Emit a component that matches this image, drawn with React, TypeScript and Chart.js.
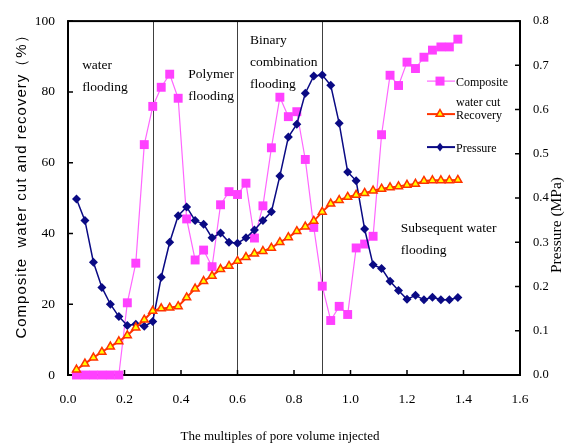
import { useEffect, useRef } from "react";
import { Chart, registerables } from "chart.js";

Chart.register(...registerables);

// ---- data ----
const pvInjected = [
  0.03, 0.06, 0.09, 0.12, 0.15, 0.18, 0.21, 0.24, 0.27, 0.3,
  0.33, 0.36, 0.39, 0.42, 0.45, 0.48, 0.51, 0.54, 0.57, 0.6,
  0.63, 0.66, 0.69, 0.72, 0.75, 0.78, 0.81, 0.84, 0.87, 0.9,
  0.93, 0.96, 0.99, 1.02, 1.05, 1.08, 1.11, 1.14, 1.17, 1.2,
  1.23, 1.26, 1.29, 1.32, 1.35, 1.38,
];
const waterCut = [
  0, 0, 0, 0, 0, 0, 20.4, 31.6, 65.1, 75.9,
  81.3, 85.0, 78.2, 44.1, 32.5, 35.3, 30.6, 48.1, 51.8, 51.0,
  54.2, 38.7, 47.8, 64.2, 78.5, 73.0, 74.4, 60.9, 41.7, 25.1,
  15.4, 19.4, 17.1, 35.9, 37.0, 39.2, 67.9, 84.7, 81.8, 88.4,
  86.6, 89.8, 91.8, 92.7, 92.7, 94.9,
];
const recovery = [
  1.5, 3.2, 4.9, 6.5, 8.0, 9.5, 11.2, 13.4, 15.6, 18.1,
  18.8, 19.0, 19.4, 21.9, 24.4, 26.5, 28.0, 29.9, 30.8, 32.2,
  33.3, 34.3, 35.0, 35.9, 37.5, 38.9, 40.6, 41.9, 43.5, 46.1,
  48.4, 49.4, 50.3, 50.9, 51.4, 52.1, 52.6, 53.0, 53.3, 53.7,
  54.0, 54.8, 55.0, 55.0, 55.0, 55.1,
];
const pressure = [
  0.398, 0.349, 0.255, 0.198, 0.16, 0.132, 0.112, 0.115, 0.11, 0.121,
  0.221, 0.3, 0.36, 0.38, 0.349, 0.341, 0.31, 0.321, 0.3, 0.298,
  0.31, 0.328, 0.349, 0.369, 0.45, 0.538, 0.567, 0.637, 0.676, 0.678,
  0.655, 0.569, 0.459, 0.439, 0.33, 0.249, 0.241, 0.212, 0.191, 0.171,
  0.18, 0.17, 0.176, 0.17, 0.17, 0.175,
];
const phaseBounds = [0.3, 0.6, 0.9];
const phaseLabels = [
  { x: 0.05, y: 86.4, lines: ["water", "flooding"] },
  { x: 0.426, y: 83.8, lines: ["Polymer", "flooding"] },
  { x: 0.644, y: 93.6, lines: ["Binary", "combination", "flooding"] },
  { x: 1.178, y: 40.5, lines: ["Subsequent water", "flooding"] },
];
const seriesNames = ["Composite", "Recovery", "Pressure"];
const xTitle = "The multiples of pore volume injected";
const yTitle = "Composite  water cut and recovery（%）";
const y2Title = "Pressure (MPa)";

const C_WC = "#FF40FF";
const C_WC_LINE = "#FF66FF";
const C_REC = "#FF3300";
const C_REC_FILL = "#FFFF00";
const C_P = "#0A0A84";

const SERIF = "'Liberation Serif', 'Times New Roman', serif";
const SANS = "'Liberation Sans', Arial, sans-serif";

function square(ctx: CanvasRenderingContext2D, x: number, y: number, s: number, c: string) {
  ctx.fillStyle = c;
  ctx.fillRect(x - s / 2, y - s / 2, s, s);
}
function tri(ctx: CanvasRenderingContext2D, x: number, y: number, r: number) {
  ctx.beginPath();
  for (let i = 0; i < 3; i++) {
    const a = (i * 2 * Math.PI) / 3;
    const px = x + Math.sin(a) * r;
    const py = y - Math.cos(a) * r;
    if (i === 0) ctx.moveTo(px, py);
    else ctx.lineTo(px, py);
  }
  ctx.closePath();
  ctx.fillStyle = C_REC_FILL;
  ctx.fill();
  ctx.lineWidth = 1.5;
  ctx.strokeStyle = C_REC;
  ctx.stroke();
}
function diamond(ctx: CanvasRenderingContext2D, x: number, y: number, r: number) {
  ctx.beginPath();
  ctx.moveTo(x, y - r * 1.1);
  ctx.lineTo(x + r * 0.85, y);
  ctx.lineTo(x, y + r * 1.1);
  ctx.lineTo(x - r * 0.85, y);
  ctx.closePath();
  ctx.fillStyle = C_P;
  ctx.fill();
}

const decor = {
  id: "decor",
  beforeDatasetsDraw(chart: any) {
    const { ctx, chartArea: a, scales } = chart;
    ctx.save();
    ctx.strokeStyle = "#404040";
    ctx.lineWidth = 1;
    for (const v of phaseBounds) {
      const x = Math.round(scales.x.getPixelForValue(v)) + 0.5;
      ctx.beginPath();
      ctx.moveTo(x, a.top);
      ctx.lineTo(x, a.bottom);
      ctx.stroke();
    }
    ctx.strokeStyle = "#000";
    ctx.lineWidth = 2;
    ctx.strokeRect(a.left, a.top, a.right - a.left, a.bottom - a.top);
    ctx.lineWidth = 1.5;
    ctx.beginPath();
    for (const t of scales.y.ticks) {
      const y = scales.y.getPixelForValue(t.value);
      ctx.moveTo(a.left, y);
      ctx.lineTo(a.left + 5, y);
    }
    for (const t of scales.y1.ticks) {
      const y = scales.y1.getPixelForValue(t.value);
      ctx.moveTo(a.right, y);
      ctx.lineTo(a.right - 5, y);
    }
    for (const t of scales.x.ticks) {
      const x = scales.x.getPixelForValue(t.value);
      ctx.moveTo(x, a.bottom);
      ctx.lineTo(x, a.bottom - 5);
    }
    ctx.stroke();
    ctx.restore();
  },
  afterDraw(chart: any) {
    const { ctx, chartArea: a, scales } = chart;
    ctx.save();
    ctx.fillStyle = "#000";
    // phase labels
    ctx.font = `13.5px ${SERIF}`;
    ctx.textAlign = "left";
    ctx.textBaseline = "alphabetic";
    for (const p of phaseLabels) {
      const x = scales.x.getPixelForValue(p.x);
      const y = scales.y.getPixelForValue(p.y);
      p.lines.forEach((l, i) => ctx.fillText(l, x, y + i * 22));
    }
    // legend
    const lx = a.right - 93;
    const ly = [a.top + 60, a.top + 93, a.top + 126];
    ctx.strokeStyle = C_WC_LINE;
    ctx.lineWidth = 1.2;
    ctx.beginPath();
    ctx.moveTo(lx, ly[0]);
    ctx.lineTo(lx + 28, ly[0]);
    ctx.stroke();
    square(ctx, lx + 13, ly[0], 9, C_WC);
    ctx.strokeStyle = C_REC;
    ctx.lineWidth = 2;
    ctx.beginPath();
    ctx.moveTo(lx, ly[1]);
    ctx.lineTo(lx + 28, ly[1]);
    ctx.stroke();
    tri(ctx, lx + 13, ly[1], 4.5);
    ctx.strokeStyle = C_P;
    ctx.lineWidth = 2;
    ctx.beginPath();
    ctx.moveTo(lx, ly[2]);
    ctx.lineTo(lx + 28, ly[2]);
    ctx.stroke();
    diamond(ctx, lx + 13, ly[2], 4);
    ctx.fillStyle = "#000";
    ctx.font = `12px ${SERIF}`;
    ctx.fillText(seriesNames[0], lx + 29, ly[0] + 4.5);
    ctx.fillText("water cut", lx + 29, ly[0] + 25);
    ctx.fillText(seriesNames[1], lx + 29, ly[1] + 4.5);
    ctx.fillText(seriesNames[2], lx + 29, ly[2] + 4.5);
    // axis titles
    ctx.textAlign = "center";
    ctx.textBaseline = "middle";
    ctx.font = `13px ${SERIF}`;
    ctx.fillText(xTitle, 280, chart.height - 8);
    ctx.save();
    ctx.translate(22, 183);
    ctx.rotate(-Math.PI / 2);
    ctx.font = `15px ${SANS}`;
    (ctx as any).letterSpacing = "1px";
    ctx.fillText(yTitle, 0, 0);
    ctx.restore();
    ctx.save();
    ctx.translate(557, 225);
    ctx.rotate(-Math.PI / 2);
    ctx.font = `15.5px ${SERIF}`;
    ctx.fillText(y2Title, 0, 0);
    ctx.restore();
    ctx.restore();
  },
};

export default function App() {
  const ref = useRef<HTMLCanvasElement>(null);
  useEffect(() => {
    document.body.style.margin = "0";
    const tickFont = { family: SERIF, size: 13.5 };
    const chart = new Chart(ref.current!, {
      type: "line",
      data: {
        datasets: [
          {
            label: "Composite water cut",
            data: pvInjected.map((x, i) => ({ x, y: waterCut[i] })),
            yAxisID: "y",
            borderColor: C_WC_LINE,
            backgroundColor: C_WC,
            borderWidth: 1.2,
            pointStyle: "rect",
            pointRadius: 6.3,
            pointBorderWidth: 0,
            pointBackgroundColor: C_WC,
            tension: 0,
            clip: false,
            order: 3,
          } as any,
          {
            label: "Pressure",
            data: pvInjected.map((x, i) => ({ x, y: pressure[i] })),
            yAxisID: "y1",
            borderColor: C_P,
            backgroundColor: C_P,
            borderWidth: 1.5,
            pointStyle: "rectRot",
            pointRadius: 4.5,
            pointBorderWidth: 0,
            pointBackgroundColor: C_P,
            tension: 0,
            clip: false,
            order: 2,
          } as any,
          {
            label: "Recovery",
            data: pvInjected.map((x, i) => ({ x, y: recovery[i] })),
            yAxisID: "y",
            borderColor: C_REC,
            backgroundColor: C_REC_FILL,
            borderWidth: 2,
            pointStyle: "triangle",
            pointRadius: 4.6,
            pointBorderWidth: 1.5,
            pointBorderColor: C_REC,
            pointBackgroundColor: C_REC_FILL,
            tension: 0,
            clip: false,
            order: 1,
          } as any,
        ],
      },
      options: {
        responsive: false,
        animation: false,
        layout: { padding: { top: 17, left: 0, right: 0, bottom: 0 } },
        plugins: { legend: { display: false }, tooltip: { enabled: false } },
        scales: {
          x: {
            type: "linear",
            min: 0,
            max: 1.6,
            grid: { display: false, drawTicks: false },
            border: { display: false },
            ticks: {
              stepSize: 0.2,
              padding: 16,
              maxRotation: 0,
              color: "#000",
              font: tickFont,
              callback: (v: any) => Number(v).toFixed(1),
            },
            afterFit: (s: any) => {
              s.height = 70;
            },
          },
          y: {
            position: "left",
            min: 0,
            max: 100,
            grid: { display: false, drawTicks: false },
            border: { display: false },
            ticks: { stepSize: 20, padding: 13, color: "#000", font: tickFont },
            afterFit: (s: any) => {
              s.width = 68;
            },
          },
          y1: {
            position: "right",
            min: 0,
            max: 0.8,
            grid: { display: false, drawTicks: false },
            border: { display: false },
            ticks: {
              stepSize: 0.1,
              padding: 13,
              color: "#000",
              font: { family: SERIF, size: 12.5 },
              callback: (v: any) => Number(v).toFixed(1),
            },
            afterFit: (s: any) => {
              s.width = 51;
            },
          },
        },
      } as any,
      plugins: [decor],
    });
    return () => chart.destroy();
  }, []);
  return <canvas ref={ref} width={571} height={445} style={{ display: "block" }} />;
}
